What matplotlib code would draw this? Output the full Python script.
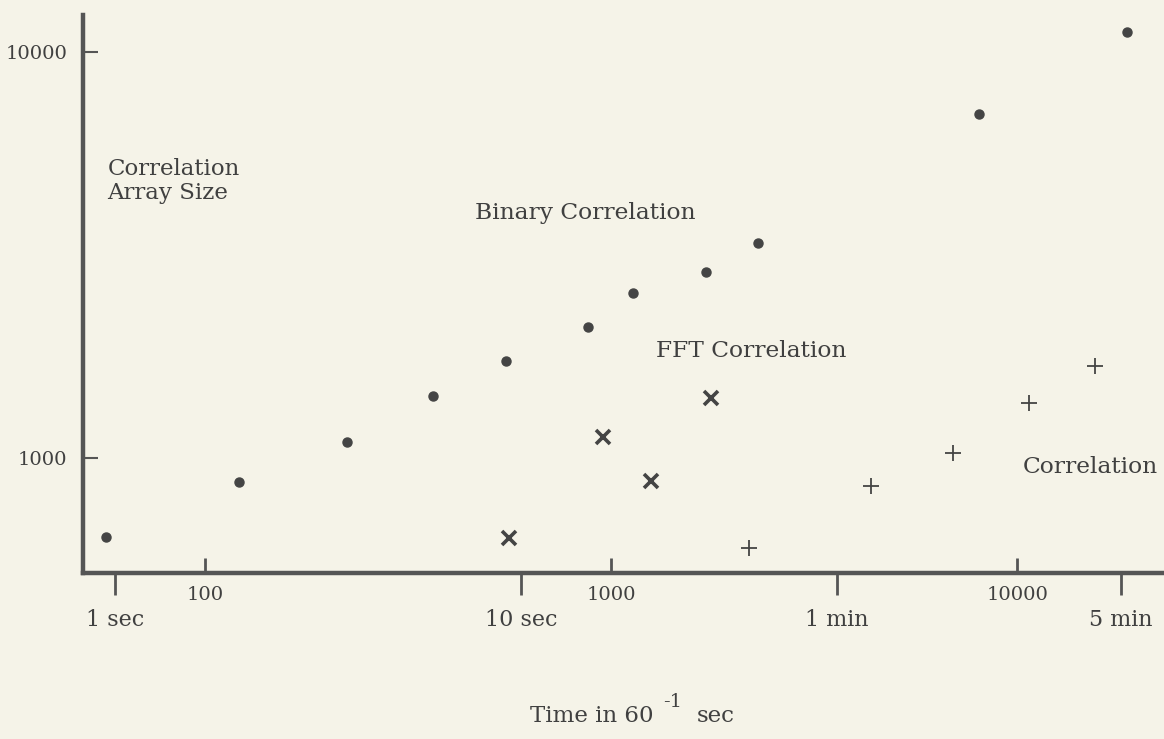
import matplotlib.pyplot as plt
import numpy as np

# binary correlation (dots)
bin_time = [57, 121, 224, 365, 551, 877, 1133, 1714, 2301, 8054, 18660]
bin_size = [638, 873, 1095, 1421, 1733, 2103, 2547, 2869, 3388, 7030, 11200]

# FFT correlation (x marks)
fft_time = [561, 955, 1256, 1763]
fft_size = [636, 1126, 878, 1405]

# plain correlation (+ marks)
cor_time = [2188, 4365, 6955, 10720, 15560]
cor_size = [600, 853, 1029, 1366, 1686]

count_ticks = [100, 1000, 10000]
count_labels = ['100', '1000', '10000']
time_ticks = [60, 600, 3600, 18000]
time_labels = ['1 sec', '10 sec', '1 min', '5 min']
size_ticks = [1000, 10000]
size_labels = ['1000', '10000']

paper = '#f5f3e8'
ink = '#404040'

plt.rcParams['font.family'] = ['DejaVu Serif']

fig = plt.figure(figsize=(11.64, 7.39), dpi=100, facecolor=paper)
ax = fig.add_axes([83 / 1164, 1 - 573 / 739, 1 - 83 / 1164, (573 - 15) / 739])
ax.set_facecolor(paper)
ax.set_xscale('log')
ax.set_yscale('log')
ax.set_xlim(50, 23000)
ax.set_ylim(521, 12340)

ax.plot(bin_time, bin_size, 'o', color='#444444', ms=6.5, ls='none')
ax.plot(fft_time, fft_size, 'x', color='#444444', ms=10, mew=2.6, ls='none')
ax.plot(cor_time, cor_size, '+', color='#444444', ms=11, mew=1.3, ls='none')

for side in ['top', 'right']:
    ax.spines[side].set_visible(False)
for side in ['left', 'bottom']:
    ax.spines[side].set_linewidth(3.2)
    ax.spines[side].set_color('#555555')

ax.set_xticks(count_ticks, count_labels)
ax.set_xticks(time_ticks, time_labels, minor=True)
ax.set_yticks(size_ticks, size_labels)
ax.yaxis.set_minor_locator(plt.NullLocator())

ax.tick_params(axis='x', which='major', direction='in', length=11, width=2,
               color='#555555', pad=9, labelsize=14, labelcolor=ink)
ax.tick_params(axis='x', which='minor', direction='out', length=16, width=2,
               color='#555555', pad=10, labelsize=16, labelcolor=ink)
ax.tick_params(axis='y', which='major', direction='in', length=11, width=1.5,
               color='#555555', pad=11.5, labelsize=14, labelcolor=ink)

ax.text(57.4, 4810, 'Correlation\nArray Size', ha='left', va='center',
        fontsize=16.5, color=ink, linespacing=1.15)
ax.text(863, 4010, 'Binary Correlation', ha='center', va='center',
        fontsize=16.8, color=ink)
ax.text(2213, 1836, 'FFT Correlation', ha='center', va='center',
        fontsize=16.8, color=ink)
ax.text(15140, 950, 'Correlation', ha='center', va='center',
        fontsize=16.8, color=ink)

# axis title, drawn in three pieces so the superscript keeps its gaps
fig.text(653 / 1164, 1 - 716 / 739, 'Time in 60', ha='right', va='center',
         fontsize=16.5, color=ink)
fig.text(673 / 1164, 1 - 702 / 739, '-1', ha='center', va='center',
         fontsize=14, color=ink)
fig.text(697 / 1164, 1 - 716 / 739, 'sec', ha='left', va='center',
         fontsize=16.5, color=ink)

fig.savefig('out.png', dpi=100, facecolor=paper)
